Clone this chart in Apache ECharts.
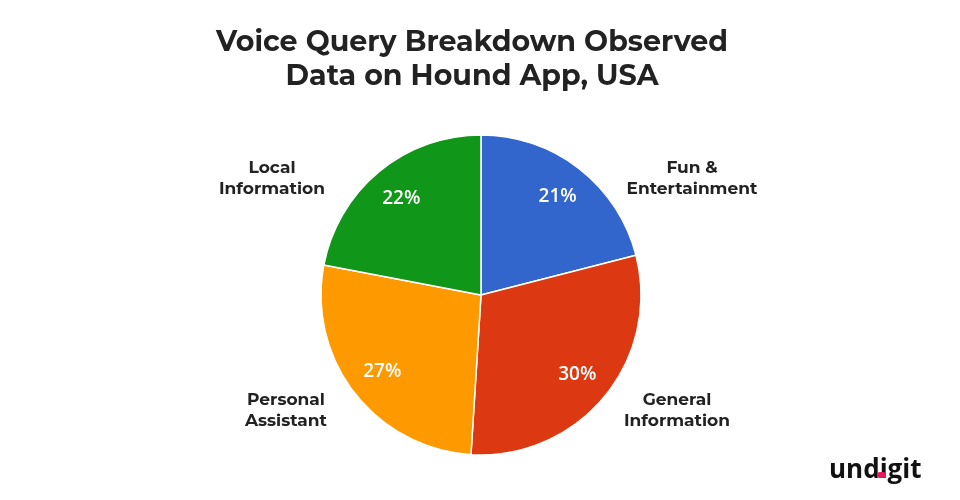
<!DOCTYPE html>
<html>
<head>
<meta charset="utf-8">
<script src="https://cdn.jsdelivr.net/npm/echarts@6/dist/echarts.min.js"></script>
<style>
  html, body { margin: 0; padding: 0; background: #fff; }
  #main { width: 960px; height: 500px; }
</style>
</head>
<body>
<div id="main"></div>
<script>
// data
var categories = ['Fun &\nEntertainment', 'General\nInformation', 'Personal\nAssistant', 'Local\nInformation'];
var shares = [21, 30, 27, 22];
var colors = ['#3366cc', '#dc3912', '#ff9900', '#109618'];

// where the category names sit round the pie
var namePos = [[692, 178], [677, 410], [286, 410], [272, 178]];

var pieData = categories.map(function (c, i) {
    return { name: c, value: shares[i] };
});

var labelFont = 'Montserrat, "Open Sans", "DejaVu Sans", sans-serif';

var graphics = categories.map(function (c, i) {
    return {
        type: 'text',
        x: namePos[i][0],
        y: namePos[i][1],
        style: {
            text: c,
            font: 'bold 17px ' + labelFont,
            fill: '#222',
            align: 'center',
            verticalAlign: 'middle',
            lineHeight: 21
        }
    };
});

// logo
graphics.push({
    type: 'text',
    x: 829,
    y: 471,
    style: {
        text: 'undigit',
        font: 'bold 26px "Open Sans", sans-serif',
        fill: '#111',
        align: 'left',
        verticalAlign: 'middle'
    }
});
graphics.push({
    type: 'rect',
    shape: { x: 877, y: 472, width: 9, height: 6, r: 3 },
    style: { fill: '#e8195a' }
});

var myChart = echarts.init(document.getElementById('main'));

var option = {
    animation: false,
    title: {
        text: 'Voice Query Breakdown Observed\nData on Hound App, USA',
        left: 467,
        textAlign: 'center',
        top: 21,
        textStyle: {
            fontFamily: labelFont,
            fontSize: 28.5,
            fontWeight: 'bold',
            color: '#222',
            lineHeight: 34
        }
    },
    color: colors,
    series: [{
        name: 'slices',
        type: 'pie',
        center: [481, 295],
        radius: [0, 160],
        startAngle: 90,
        clockwise: true,
        silent: true,
        itemStyle: { borderColor: '#fff', borderWidth: 1.5 },
        label: { show: false },
        labelLine: { show: false },
        data: pieData
    }, {
        // transparent ring, only for placing the percentages
        name: 'percent',
        type: 'pie',
        center: [481, 295],
        radius: [84, 160],
        startAngle: 90,
        clockwise: true,
        silent: true,
        itemStyle: { color: 'rgba(0,0,0,0)' },
        label: {
            show: true,
            position: 'inside',
            formatter: '{c}%',
            color: '#fff',
            fontSize: 19,
            fontWeight: 600,
            fontFamily: '"Open Sans", sans-serif'
        },
        labelLine: { show: false },
        data: pieData
    }],
    graphic: graphics
};

myChart.setOption(option);
</script>
</body>
</html>
